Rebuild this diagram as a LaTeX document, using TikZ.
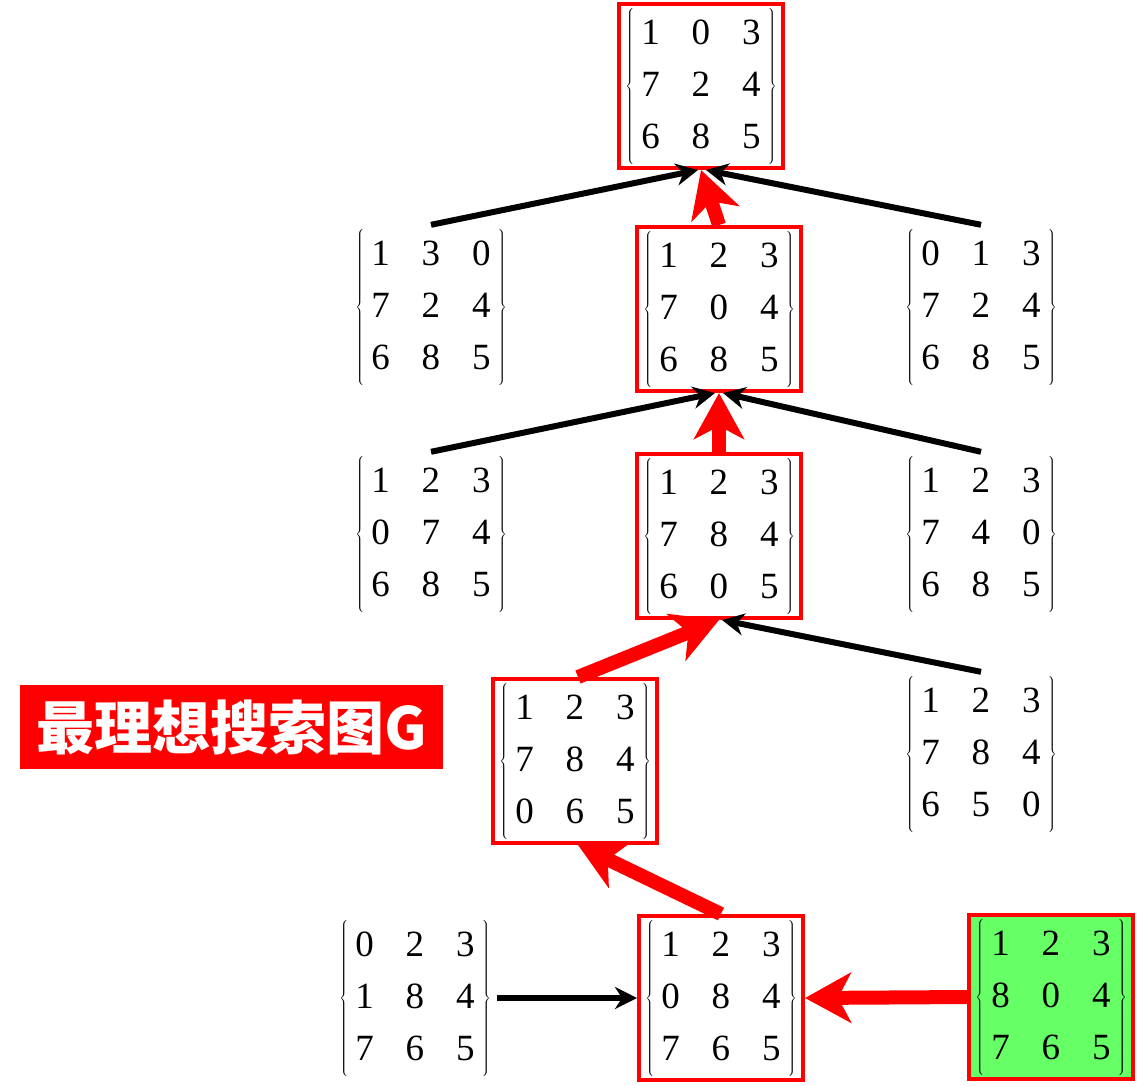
\documentclass[tikz,border=0pt]{standalone}
\usepackage{fontspec}
\setmainfont{Liberation Serif}
\newfontfamily\cjkfont{Noto Sans CJK SC}
\usetikzlibrary{arrows.meta}
\setlength{\tabcolsep}{16pt}
\newcommand{\puzzle}[1]{$\left\{\hspace{7pt}\begin{tabular}{@{}ccc@{}}#1\end{tabular}\hspace{7pt}\right\}$}

\begin{document}
\begin{tikzpicture}[x=1pt,y=-1pt,
  state/.style={inner sep=0pt,minimum size=164pt,font=\rmfamily\fontsize{37}{52}\selectfont},
  picked/.style={state,draw=red,line width=4pt},
  goal/.style={picked,fill=green!60!white},
  move/.style={line width=6pt,-{Stealth[length=22pt,width=22pt,inset=7pt]}},
  best/.style={line width=14pt,red,-{Stealth[length=46pt,width=50pt,inset=13pt]}}]

\useasboundingbox (0,0) rectangle (1137,1085);

% start and goal
\node[picked] (nodeTop) at (701,86) {\puzzle{1&0&3\\7&2&4\\6&8&5}};
\node[goal] (nodeStart) at (1051,997) {\puzzle{1&2&3\\8&0&4\\7&6&5}};

% second row
\node[state] (nodeRowA) at (431,307) {\puzzle{1&3&0\\7&2&4\\6&8&5}};
\node[picked] (nodeRowB) at (719,309) {\puzzle{1&2&3\\7&0&4\\6&8&5}};
\node[state] (nodeRowC) at (981,307) {\puzzle{0&1&3\\7&2&4\\6&8&5}};

% third row
\node[state] (nodeMidA) at (431,534) {\puzzle{1&2&3\\0&7&4\\6&8&5}};
\node[picked] (nodeMidB) at (719,536) {\puzzle{1&2&3\\7&8&4\\6&0&5}};
\node[state] (nodeMidC) at (981,534) {\puzzle{1&2&3\\7&4&0\\6&8&5}};

% fourth row
\node[picked] (nodeLowA) at (575,761) {\puzzle{1&2&3\\7&8&4\\0&6&5}};
\node[state] (nodeLowB) at (981,754) {\puzzle{1&2&3\\7&8&4\\6&5&0}};

% bottom row
\node[state] (nodeEndA) at (415,998) {\puzzle{0&2&3\\1&8&4\\7&6&5}};
\node[picked] (nodeEndB) at (721,998) {\puzzle{1&2&3\\0&8&4\\7&6&5}};

\node[fill=red,text=white,minimum width=423pt,minimum height=84pt,inner sep=0pt,
  font=\cjkfont\bfseries\fontsize{58}{62}\selectfont] (title) at (231.5,727) {最理想搜索图G};

\draw[move] (nodeRowA.north) -- ([xshift=-3pt]nodeTop.south);
\draw[move] (nodeRowC.north) -- ([xshift=5pt]nodeTop.south);
\draw[best] (nodeRowB.north) -- (nodeTop.south);

\draw[move] (nodeMidA.north) -- ([xshift=-4pt]nodeRowB.south);
\draw[move] (nodeMidC.north) -- ([xshift=4pt]nodeRowB.south);
\draw[best] (nodeMidB.north) -- (nodeRowB.south);

\draw[move] (nodeLowB.north) -- ([xshift=3pt]nodeMidB.south);
\draw[best] ([xshift=3pt]nodeLowA.north) -- (nodeMidB.south);

\draw[best] (nodeEndB.north) -- ([xshift=3pt]nodeLowA.south);
\draw[move] (nodeEndA.east) -- (nodeEndB.west);
\draw[best] (nodeStart.west) -- (nodeEndB.east);

\end{tikzpicture}
\end{document}
